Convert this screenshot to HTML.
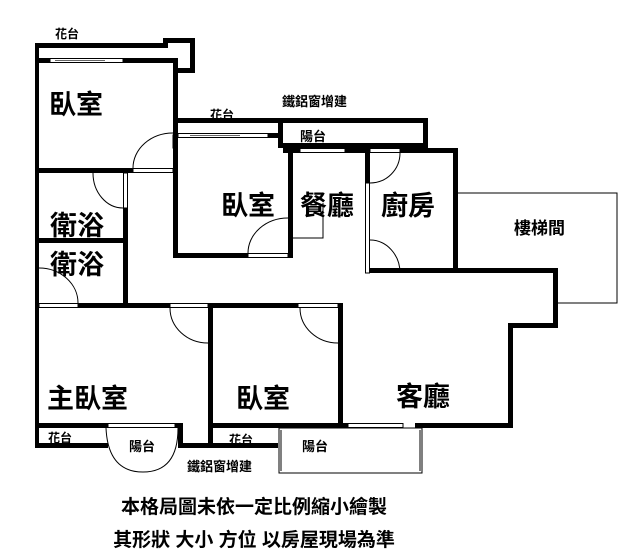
<!DOCTYPE html>
<html><head><meta charset="utf-8"><style>
html,body{margin:0;padding:0;background:#fff;}
svg{display:block;}
text{font-family:"Liberation Sans","Noto Sans CJK TC","WenQuanYi Zen Hei",sans-serif;font-weight:bold;fill:#000;}
</style></head><body>
<svg width="631" height="554" viewBox="0 0 631 554" xmlns="http://www.w3.org/2000/svg">
<g fill="#000">
<rect x="35" y="43" width="133" height="5"/>
<rect x="163" y="38" width="32" height="5"/>
<rect x="190" y="38" width="5" height="35"/>
<rect x="173" y="68" width="22" height="5"/>
<rect x="35" y="58" width="15" height="5"/>
<rect x="123" y="58" width="55" height="5"/>
<rect x="35" y="43" width="4" height="405"/>
<rect x="173" y="58" width="5" height="77"/>
<rect x="35" y="168" width="98" height="5"/>
<rect x="178" y="118" width="250" height="5"/>
<rect x="423" y="118" width="5" height="30"/>
<rect x="278" y="118" width="5" height="30"/>
<rect x="278" y="143" width="150" height="5"/>
<rect x="173" y="133" width="5" height="125"/>
<rect x="268" y="133" width="15" height="5"/>
<rect x="173" y="253" width="75" height="5"/>
<rect x="288" y="148" width="5" height="110"/>
<rect x="283" y="148" width="17" height="5"/>
<rect x="345" y="148" width="20" height="5"/>
<rect x="365" y="148" width="5" height="35"/>
<rect x="400" y="148" width="58" height="5"/>
<rect x="453" y="148" width="5" height="125"/>
<rect x="370" y="268" width="188" height="5"/>
<rect x="553" y="268" width="5" height="60"/>
<rect x="508" y="323" width="50" height="5"/>
<rect x="508" y="323" width="5" height="105"/>
<rect x="123" y="208" width="5" height="100"/>
<rect x="35" y="238" width="93" height="5"/>
<rect x="78" y="303" width="92" height="5"/>
<rect x="208" y="303" width="5" height="145"/>
<rect x="208" y="303" width="90" height="5"/>
<rect x="338" y="303" width="5" height="125"/>
<rect x="35" y="423" width="73" height="5"/>
<rect x="175" y="423" width="8" height="5"/>
<rect x="178" y="423" width="5" height="25"/>
<rect x="35" y="443" width="73" height="5"/>
<rect x="178" y="443" width="100" height="5"/>
<rect x="208" y="423" width="140" height="5"/>
<rect x="415" y="423" width="98" height="5"/>
</g>
<g fill="none" stroke="#000" stroke-width="1">
<rect x="50" y="58.5" width="73" height="4"/>
<line x1="55" y1="60.5" x2="105" y2="60.5" stroke="#666"/>
<rect x="178" y="133.5" width="90" height="4"/>
<line x1="190" y1="135.5" x2="240" y2="135.5" stroke="#666"/>
<rect x="300" y="148.5" width="45" height="4"/>
<rect x="108" y="423.5" width="67" height="4"/>
<rect x="348" y="423.5" width="55" height="4"/>
<rect x="133" y="168.5" width="40" height="4"/>
<rect x="173" y="135" width="4" height="13"/>
<rect x="123.5" y="173" width="4" height="35"/>
<rect x="39" y="303.5" width="39" height="4"/>
<rect x="170" y="303.5" width="38" height="4"/>
<rect x="298" y="303.5" width="40" height="4"/>
<rect x="248" y="253.5" width="40" height="4"/>
<rect x="365.5" y="183" width="4" height="90"/>
<rect x="370" y="148.5" width="30" height="4"/>
<path d="M133 168 A40 35 0 0 1 173 133"/>
<path d="M93 173 A30 35 0 0 0 123 208"/>
<path d="M39 268 A39 35 0 0 1 78 303"/>
<path d="M248 253 A40 35 0 0 1 288 218"/>
<path d="M170 308 A38 35 0 0 0 208 343"/>
<path d="M300 308 A38 35 0 0 0 338 343"/>
<path d="M370 183 A30 30 0 0 0 400 153"/>
<path d="M370 240 A30 33 0 0 1 400 273"/>
<path d="M106 428 Q108 472 143 472 Q178 472 178 428"/>
<polyline points="293,238 323,238 323,203"/>
<polyline points="458,193 617,193 617,303 558,303"/>
<rect x="279" y="428" width="143" height="45"/>
<line x1="281" y1="430" x2="281" y2="471"/>
<line x1="420" y1="430" x2="420" y2="471"/>
</g>
<text x="55" y="38" font-size="12">花台</text>
<text x="49" y="114" font-size="27">臥室</text>
<text x="210" y="119" font-size="12">花台</text>
<text x="282" y="106" font-size="13">鐵鋁窗增建</text>
<text x="300" y="141" font-size="13">陽台</text>
<text x="221" y="215" font-size="27">臥室</text>
<text x="300" y="215" font-size="27">餐廳</text>
<text x="381" y="215" font-size="27">廚房</text>
<text x="514" y="234" font-size="17">樓梯間</text>
<text x="50" y="235" font-size="27">衛浴</text>
<text x="50" y="274" font-size="27">衛浴</text>
<text x="47" y="408" font-size="27">主臥室</text>
<text x="236" y="408" font-size="27">臥室</text>
<text x="396" y="406" font-size="27">客廳</text>
<text x="48" y="442" font-size="12">花台</text>
<text x="129" y="451" font-size="13">陽台</text>
<text x="229" y="444" font-size="12">花台</text>
<text x="302" y="451" font-size="13">陽台</text>
<text x="187" y="471" font-size="13">鐵鋁窗增建</text>
<text x="254" y="513" font-size="19" text-anchor="middle">本格局圖未依一定比例縮小繪製</text>
<text x="254" y="546" font-size="19" text-anchor="middle">其形狀 大小 方位 以房屋現場為準</text>
</svg>
</body></html>
